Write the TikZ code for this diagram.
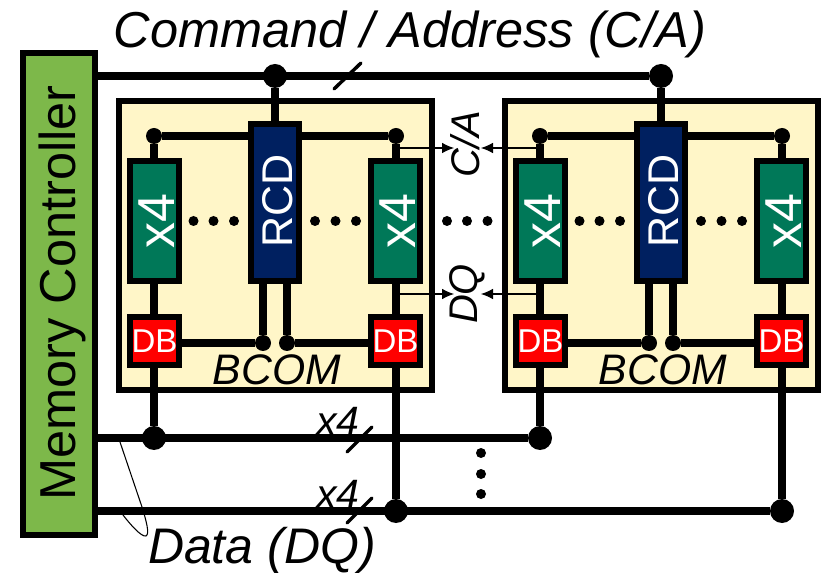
\documentclass[tikz,border=0pt]{standalone}
\usepackage{fontspec}
\usepackage{graphicx}
\setmainfont{Liberation Sans}
\usetikzlibrary{arrows.meta}
\newcommand{\fpx}[1]{\fontsize{\fpeval{#1*0.75}pt}{\fpeval{#1*0.9}pt}\selectfont}
\definecolor{cream}{HTML}{FFF6C8}
\definecolor{chipgreen}{HTML}{007858}
\definecolor{rcdblue}{HTML}{002060}
\definecolor{mcgreen}{HTML}{7DB84A}
\tikzset{
  every node/.style={inner sep=0pt,outer sep=0pt},
  boxed/.style n args={3}{draw=black,line width=4.5pt,fill=#3,minimum width=#1*0.75pt,minimum height=#2*0.75pt},
  wire/.style={line width=6pt,black},
  thinwire/.style={line width=5.6pt,black},
  slash/.style={line width=2.6pt,black,line cap=round},
  jbig/.style={circle,fill=black,minimum size=18pt},
  jsmall/.style={circle,fill=black,minimum size=12pt},
  dotp/.style={circle,fill=black,minimum size=7.5pt},
  leader/.style={line width=0.8pt,black},
  sig/.style={line width=0.8pt,black,-{Latex[length=9pt,width=8pt]}},
}
\begin{document}
\begin{tikzpicture}[x=0.75pt,y=-0.75pt]
\useasboundingbox (0,0) rectangle (821,573);

% memory controller
\node[boxed={72}{482}{mcgreen}] (mc) at (59,294) {};
\node (mclab) at (62,293) {\rotatebox{90}{\fpx{50.5}Memory Controller}};

% junctions on the top bus and the data buses
\node[jbig] (ca1) at (275,76) {};
\node[jbig] (ca2) at (661,76) {};
\node[jbig] (d1a) at (154,438) {};
\node[jbig] (d1b) at (540,438) {};
\node[jbig] (d2a) at (396,511) {};
\node[jbig] (d2b) at (782,511) {};
\coordinate (busA) at (mc.east |- ca1);
\coordinate (busB) at (mc.east |- d1a);
\coordinate (busC) at (mc.east |- d2a);

% modules
\foreach \m/\dx/\top/\lo/\hi in {1/0/ca1/d1a/d2a,2/386/ca2/d1b/d2b}{
\begin{scope}[shift={(\dx,0)}]
  \node[boxed={313}{289}{cream}] (mod\m) at (275.5,245.5) {};
  \node[jsmall] (jl\m) at (154,136) {};
  \node[jsmall] (jr\m) at (396,136) {};
  \node[jsmall] (jb\m) at (263,343) {};
  \node[jsmall] (jc\m) at (287,343) {};
  \node[boxed={48}{157}{rcdblue}] (rcd\m) at (275,202.5) {};
  \node[boxed={49}{120}{chipgreen}] (xl\m) at (154.5,221) {};
  \node[boxed={49}{120}{chipgreen}] (xr\m) at (395.5,221) {};
  \node[boxed={49}{48}{red}] (dl\m) at (154.5,341) {};
  \node[boxed={49}{48}{red}] (dr\m) at (395.5,341) {};
  \node (rl\m) at (277.5,201) {\rotatebox{90}{\fpx{43}\color{white}RCD}};
  \node (xll\m) at (157,221) {\rotatebox{90}{\fpx{52}\color{white}x4}};
  \node (xrl\m) at (398,221) {\rotatebox{90}{\fpx{52}\color{white}x4}};
  \node (dll\m) at (154.5,341) {\fpx{33}\color{white}DB};
  \node (drl\m) at (395.5,341) {\fpx{33}\color{white}DB};
  \node[font=\fpx{42.7}\itshape] (bc\m) at (277,370) {BCOM};
  \foreach \i/\x in {a/193.5,b/213.5,c/234,d/315,e/335.5,f/356}{
    \node[dotp] (p\i\m) at (\x,221) {};
  }
  \draw[wire] (\top) -- (rcd\m.north);
  \draw[thinwire] (rcd\m.west |- jl\m) -- (jl\m);
  \draw[thinwire] (rcd\m.east |- jr\m) -- (jr\m);
  \draw[wire] (jl\m) -- (jl\m |- xl\m.north);
  \draw[wire] (jr\m) -- (jr\m |- xr\m.north);
  \draw[wire] (jl\m |- xl\m.south) -- (jl\m |- dl\m.north);
  \draw[wire] (jr\m |- xr\m.south) -- (jr\m |- dr\m.north);
  \draw[wire] (jb\m |- rcd\m.south) -- (jb\m);
  \draw[wire] (jc\m |- rcd\m.south) -- (jc\m);
  \draw[thinwire] (dl\m.east |- jb\m) -- (jb\m);
  \draw[thinwire] (dr\m.west |- jc\m) -- (jc\m);
  \draw[wire] (jl\m |- dl\m.south) -- (\lo);
\end{scope}
\draw[wire] (jr\m |- dr\m.south) -- (\hi);
}

% buses
\draw[wire] (busA) -- (ca2);
\draw[wire] (busB) -- (d1b);
\draw[wire] (busC) -- (d2b);

% bus width marks
\coordinate (s1a) at (334,89); \coordinate (s1b) at (361,63);
\coordinate (s2a) at (347,452); \coordinate (s2b) at (372,427);
\coordinate (s3a) at (347,523); \coordinate (s3b) at (372,498);
\draw[slash] (s1a) -- (s1b);
\draw[slash] (s2a) -- (s2b);
\draw[slash] (s3a) -- (s3b);
\node[font=\fpx{41}\itshape] (x4a) at (338,421) {x4};
\node[font=\fpx{41}\itshape] (x4b) at (338,494) {x4};

% inter-module signals
\node (calab) at (465,144) {\rotatebox{90}{\fpx{40}\itshape C/A}};
\node (dqlab) at (467,294) {\rotatebox{90}{\fpx{40}\itshape DQ}};
\coordinate (t1) at (454,148); \coordinate (t2) at (481,148);
\coordinate (t3) at (454,294); \coordinate (t4) at (481,294);
\draw[sig] (jr1 |- t1) -- (t1);
\draw[sig] (jl2 |- t2) -- (t2);
\draw[sig] (jr1 |- t3) -- (t3);
\draw[sig] (jl2 |- t4) -- (t4);

% dots between modules
\node[dotp] (h1) at (447,221) {};
\node[dotp] (h2) at (467,221) {};
\node[dotp] (h3) at (487.5,221) {};
\node[dotp] (v1) at (481,453) {};
\node[dotp] (v2) at (481,474) {};
\node[dotp] (v3) at (481,494) {};

% titles
\node[font=\fpx{50.5}\itshape] (title) at (410,34) {Command / Address (C/A)};
\node[font=\fpx{50}\itshape] (data) at (262,551) {Data (DQ)};

% leader loop
\coordinate (l1) at (120,442);
\coordinate (l2) at (123,515);
\draw[leader] (l1) -- (142,507) .. controls (146,520) and (150,534) .. (146,536) .. controls (141,537) and (130,524) .. (l2);
\end{tikzpicture}
\end{document}
